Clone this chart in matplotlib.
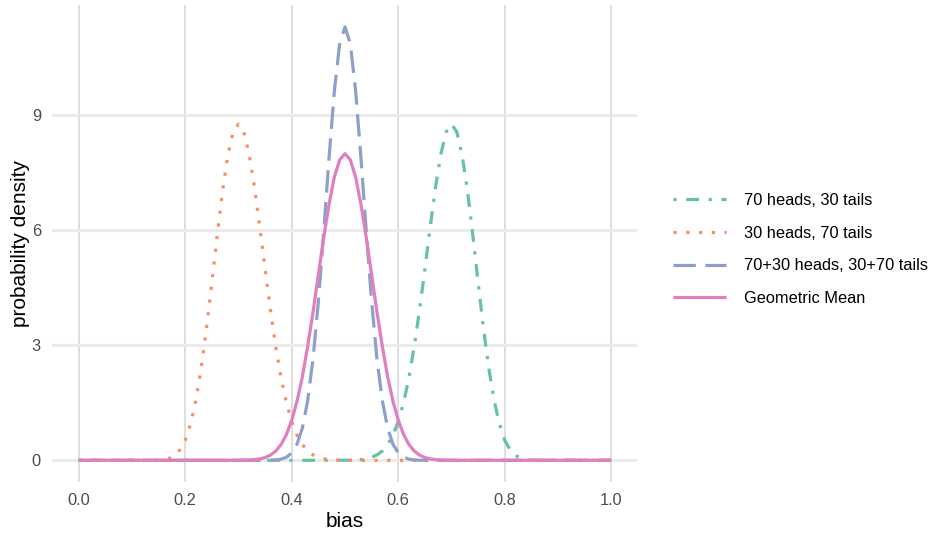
import numpy as np
import matplotlib
matplotlib.use("Agg")
import matplotlib.pyplot as plt

plt.rcParams["font.family"] = ["Liberation Sans", "DejaVu Sans"]

# bias grid, step 0.01 from 0 to 1
bias = np.round(np.arange(101) * 0.01, 2)

# density values, one per grid step
heads70 = [0] * 50 + [
    0.002, 0.005, 0.01, 0.02, 0.042, 0.078, 0.14, 0.24, 0.41, 0.65,
    1.01, 1.50, 2.15, 2.96, 3.92, 4.98, 6.08, 7.11, 7.97, 8.55,
    8.75, 8.54, 7.93, 7.00, 5.85, 4.61, 3.43, 2.39, 1.55, 0.94,
    0.52, 0.27, 0.125, 0.053, 0.02, 0.0065, 0.002,
] + [0] * 14

heads30 = [0] * 14 + [
    0.002, 0.0065, 0.02, 0.053, 0.125, 0.27, 0.52,
    0.94, 1.55, 2.39, 3.43, 4.61, 5.85, 7.00, 7.93, 8.54, 8.75,
    8.55, 7.97, 7.11, 6.08, 4.98, 3.92, 2.96, 2.15, 1.50, 1.01,
    0.65, 0.41, 0.24, 0.14, 0.078, 0.042, 0.02, 0.01, 0.005, 0.002,
] + [0] * 50

pooled = [0] * 35 + [
    0.001, 0.003, 0.010, 0.030, 0.079, 0.19, 0.42, 0.84, 1.56, 2.64,
    4.13, 5.94, 7.86, 9.61, 10.84, 11.28, 10.84, 9.61, 7.86, 5.94,
    4.13, 2.64, 1.56, 0.84, 0.42, 0.19, 0.079, 0.030, 0.010, 0.003,
    0.001,
] + [0] * 35

geo_mean = [0] * 30 + [
    0.001, 0.003, 0.008, 0.017, 0.036, 0.071, 0.135, 0.24, 0.41, 0.67,
    1.04, 1.54, 2.18, 2.97, 3.86, 4.83, 5.79, 6.66, 7.37, 7.82,
    7.98, 7.82, 7.37, 6.66, 5.79, 4.83, 3.86, 2.97, 2.18, 1.54,
    1.04, 0.67, 0.41, 0.24, 0.135, 0.071, 0.036, 0.017, 0.008, 0.003,
    0.001,
] + [0] * 30

labels = ["70 heads, 30 tails", "30 heads, 70 tails",
          "70+30 heads, 30+70 tails", "Geometric Mean"]
colors = ["#66C2A5", "#FC8D62", "#8DA0CB", "#E07FC0"]
styles = [(0, (1, 3, 4, 3)), (0, (1, 3)), (0, (7, 3)), "-"]
x_ticks = [0.0, 0.2, 0.4, 0.6, 0.8, 1.0]
y_ticks = [0, 3, 6, 9]

fig = plt.figure(figsize=(9.33, 5.34), dpi=100)
ax = fig.add_axes([52 / 933, 1 - 482 / 534, (638 - 52) / 933, (482 - 5) / 534])

for xt in x_ticks:
    ax.axvline(xt, color="#dcdcdc", lw=1.3, zorder=0)
for yt in y_ticks:
    ax.axhline(yt, color="#ebebeb", lw=2.2, zorder=0)

for ys, lab, col, ls in zip([heads70, heads30, pooled, geo_mean], labels, colors, styles):
    ax.plot(bias, ys, color=col, lw=2.3, linestyle=ls, label=lab,
            dash_capstyle="butt", solid_capstyle="butt")

ax.set_xlim(-0.05, 1.05)
ax.set_ylim(-0.565, 11.85)
ax.set_xticks(x_ticks)
ax.set_xticklabels([f"{v:.1f}" for v in x_ticks])
ax.set_yticks(y_ticks)
ax.tick_params(length=0, labelsize=11.8, labelcolor="#4d4d4d", pad=8)
for s in ax.spines.values():
    s.set_visible(False)
ax.set_xlabel("bias", fontsize=15, labelpad=3)
ax.set_ylabel("probability density", fontsize=15, labelpad=1)

fig.legend(loc="center left", bbox_to_anchor=(673 / 933, 1 - 249.5 / 534),
           frameon=False, fontsize=11.8, handlelength=3.24, handletextpad=1.08,
           labelspacing=1.08, borderpad=0, borderaxespad=0)

fig.savefig("out.png", dpi=100)
